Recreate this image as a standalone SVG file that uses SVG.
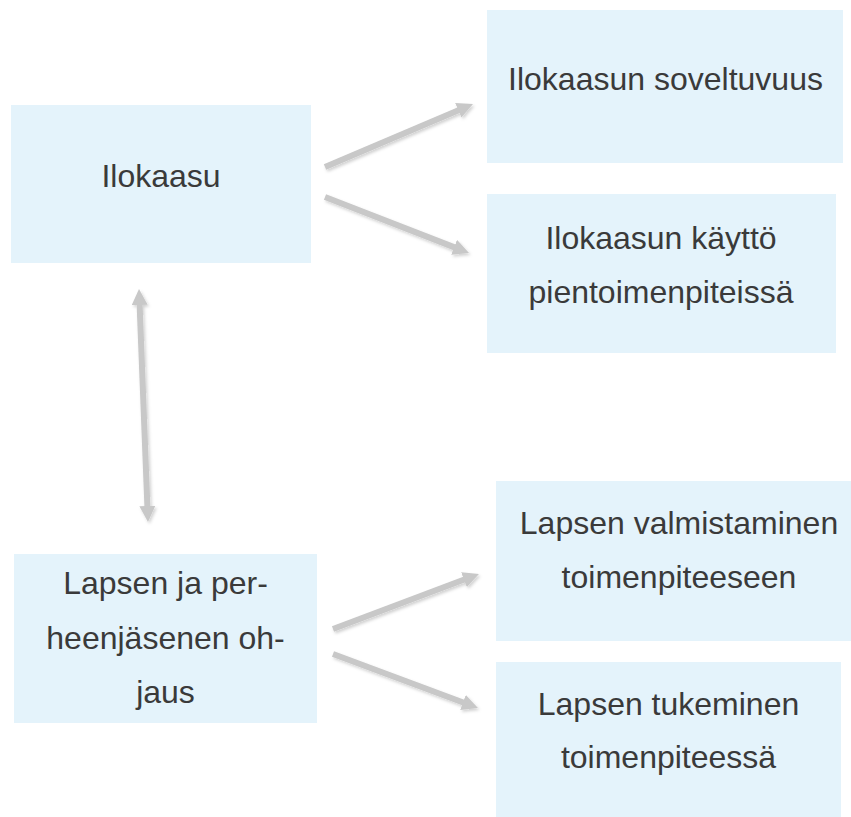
<svg xmlns="http://www.w3.org/2000/svg" width="851" height="817" viewBox="0 0 851 817">
<style>
.box{fill:#E4F3FB}
.t{font-family:"Liberation Sans",Arial,sans-serif;font-size:32px;fill:#3a3a3a;text-anchor:middle}
.c{stroke:#C8C8C8;stroke-width:6;fill:none;marker-end:url(#ah);filter:url(#sh)}
</style>
<defs>
<marker id="ah" markerUnits="userSpaceOnUse" markerWidth="16" markerHeight="16" viewBox="0 0 16 16" refX="6" refY="8" orient="auto-start-reverse">
<path d="M0,0 L16,8 L0,16 z" fill="#C8C8C8"/>
</marker>
<filter id="sh" filterUnits="userSpaceOnUse" x="0" y="0" width="851" height="817">
<feDropShadow dx="1.5" dy="2" stdDeviation="1.5" flood-color="#000" flood-opacity="0.18"/>
</filter>
</defs>
<g id="n1"><rect class="box" x="11" y="105" width="300" height="158"/><text class="t" x="161" y="187">Ilokaasu</text></g>
<g id="n2"><rect class="box" x="487" y="10" width="356" height="153"/><text class="t" x="665.5" y="90">Ilokaasun soveltuvuus</text></g>
<g id="n3"><rect class="box" x="487" y="194" width="349" height="159"/><text class="t" x="661" y="249">Ilokaasun käyttö</text><text class="t" x="661" y="303">pientoimenpiteissä</text></g>
<g id="n4"><rect class="box" x="14" y="554" width="303" height="169"/><text class="t" x="165.5" y="594">Lapsen ja per-</text><text class="t" x="165.5" y="649">heenjäsenen oh-</text><text class="t" x="165.5" y="703">jaus</text></g>
<g id="n5"><rect class="box" x="496" y="481" width="366" height="160"/><text class="t" x="679" y="534">Lapsen valmistaminen</text><text class="t" x="679" y="588">toimenpiteeseen</text></g>
<g id="n6"><rect class="box" x="496" y="662" width="345" height="160"/><text class="t" x="668.5" y="715">Lapsen tukeminen</text><text class="t" x="668.5" y="768">toimenpiteessä</text></g>
<g id="connectors">
<line class="c" x1="325" y1="167" x2="463.8" y2="107.9"/>
<line class="c" x1="325" y1="197" x2="459.7" y2="249.4"/>
<line class="c" x1="333" y1="629" x2="469.6" y2="577.5"/>
<line class="c" x1="333" y1="654" x2="468.6" y2="704.5"/>
<line class="c" style="marker-start:url(#ah)" x1="139.4" y1="299" x2="147.6" y2="512"/>
</g>
</svg>
